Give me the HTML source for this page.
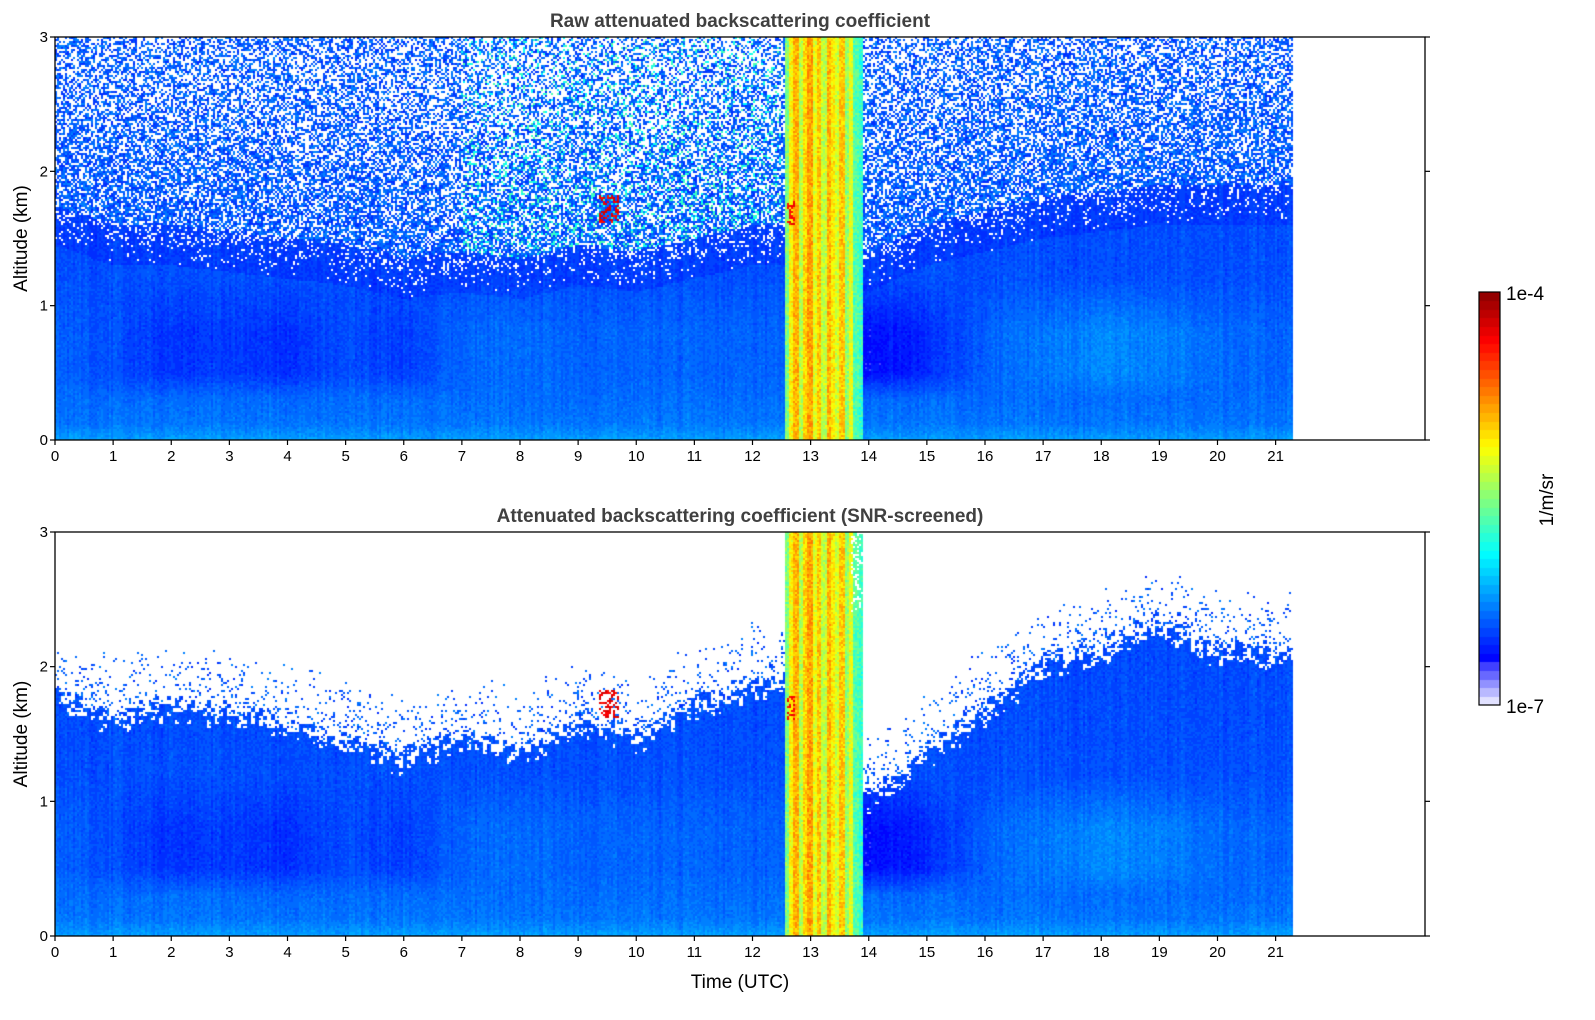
<!DOCTYPE html>
<html><head><meta charset="utf-8"><style>
body{margin:0;background:#fff;width:1595px;height:1020px;overflow:hidden;position:relative;font-family:"Liberation Sans","DejaVu Sans",sans-serif}
canvas{position:absolute}
svg{position:absolute;left:0;top:0}
</style></head><body>
<canvas id="c1" width="1370" height="403" style="left:55px;top:37px"></canvas>
<canvas id="c2" width="1370" height="404" style="left:55px;top:532px"></canvas>
<canvas id="cb" width="21" height="413" style="left:1479px;top:292px"></canvas>
<svg id="ax" width="1595" height="1020"></svg>
<script>
// ---- data ----
const hours=[0,1,2,3,4,5,6,7,8,9,10,11,12,12.5,13,14,15,16,17,18,19,20,21,21.3];
const blTop=[1.75,1.6,1.7,1.65,1.55,1.45,1.3,1.45,1.35,1.6,1.45,1.7,1.85,1.9,1.9,1.0,1.35,1.65,2.0,2.1,2.3,2.1,2.1,2.1];
const rawNoiseTop=[1.75,1.6,1.6,1.55,1.5,1.45,1.35,1.4,1.35,1.45,1.4,1.5,1.6,1.6,1.6,1.4,1.6,1.7,1.8,1.85,1.9,1.9,1.9,1.9];
const lowLayerLevel=[0.21,0.19,0.16,0.17,0.16,0.19,0.17,0.21,0.22,0.21,0.21,0.21,0.21,0.21,0.21,0.12,0.15,0.21,0.23,0.25,0.24,0.22,0.21,0.21];
const cloudSpan=[12.55,13.9];
const cloudStripes=[0.5,0.62,0.7,0.55,0.66,0.72,0.6,0.68,0.56,0.7,0.64,0.58,0.68,0.52,0.6,0.45,0.42];
const patches=[{t0:9.35,t1:9.7,a0:1.62,a1:1.82,v:0.9},{t0:12.6,t1:12.72,a0:1.6,a1:1.78,v:0.88}];
const xMax=23.57, yMax=3, dataEnd=21.3;
const ticksX=[0,1,2,3,4,5,6,7,8,9,10,11,12,13,14,15,16,17,18,19,20,21];
const ticksY=[0,1,2,3];

// ---- helpers ----
function interp(arr,t){for(let i=0;i<hours.length-1;i++){if(t<=hours[i+1]){const f=(t-hours[i])/(hours[i+1]-hours[i]);return arr[i]+(arr[i+1]-arr[i])*f;}}return arr[arr.length-1];}
function hash(a,b,s){let h=(a*374761393+b*668265263+s*982451653)|0;h=(h^(h>>>13))*1274126177|0;h=h^(h>>>16);return ((h>>>0)%10000)/10000;}
function jet(x){const c=v=>Math.max(0,Math.min(1,v));return [c(1.5-Math.abs(4*x-3)),c(1.5-Math.abs(4*x-2)),c(1.5-Math.abs(4*x-1))];}
function cmap(f){f=Math.max(0,Math.min(0.999,f));f=Math.floor(f*48)/48;
 if(f<0.1){const k=f/0.1;return [Math.round(225-(225-32)*k),Math.round(225-(225-32)*k),255];}
 const j=jet(0.125+(f-0.1)/0.9*0.875);return j.map(v=>Math.round(v*255));}
function lin(a,pts){for(let i=0;i<pts.length-1;i++){if(a<=pts[i+1][0]){const f=(a-pts[i][0])/(pts[i+1][0]-pts[i][0]);return pts[i][1]+(pts[i+1][1]-pts[i][1])*f;}}return pts[pts.length-1][1];}

function draw(id,raw){
 const cv=document.getElementById(id),ctx=cv.getContext('2d');
 const W=cv.width,H=cv.height,img=ctx.createImageData(W,H);
 const cw=2,ch=2;
 for(let cx=0;cx<W;cx+=cw){
  const t=(cx+1)/W*xMax; if(t>dataEnd)break;
  const top=interp(blTop,t),nTop=interp(rawNoiseTop,t),low=interp(lowLayerLevel,t);
  const colN=(hash(cx>>1,7,3)-0.5)*0.025;
  for(let cy=0;cy<H;cy+=ch){
   const a=(H-cy-1)/H*yMax; const n=hash(cx,cy,raw?1:2);
   let v=null;
   const inCloud=t>=cloudSpan[0]&&t<=cloudSpan[1];
   if(inCloud){const si=Math.floor((t-cloudSpan[0])/(cloudSpan[1]-cloudSpan[0])*cloudStripes.length);v=cloudStripes[Math.min(si,cloudStripes.length-1)]+(n-0.5)*0.1;
    if(!raw&&t>13.7&&a>2.4&&n<0.3)v=null;}
   else{
    let base=lin(a,[[0,0.27],[0.06,0.25],[0.12,0.23],[0.3,0.22],[0.5,low],[0.8,low],[1.2,0.19],[3,0.18]]);
    base+=colN+(n-0.5)*0.03;
    if(raw){
     if(a<nTop-0.3)v=base;
     else if(a<nTop){v=base-0.02; if(n<(a-nTop+0.3)*0.8)v=null;}
     else{const p=Math.min(0.55,0.3+(a-nTop)*0.2);
      if(n<p)v=null;else{v=0.15+hash(cy,cx,9)*0.1;if(t>7&&t<12.5&&hash(cx,cy,5)<0.2)v=0.36+hash(cx,cy,6)*0.1;}}
    }else{
     const edge=top+(hash(cx>>2,cy>>2,4)-0.5)*0.25;
     if(a<edge)v=base;
     else if(a<top+0.5&&hash(cx>>1,cy>>1,8)<0.18*(1-(a-top)/0.5))v=0.16+n*0.08;
     else v=null;
    }
   }
   for(const p of patches){if(t>=p.t0&&t<=p.t1&&a>=p.a0&&a<=p.a1&&n<0.45)v=p.v+(n-0.2)*0.15;}
   if(v===null)continue;
   const c=cmap(v);
   for(let dx=0;dx<cw&&cx+dx<W;dx++)for(let dy=0;dy<ch&&cy+dy<H;dy++){const k=((cy+dy)*W+cx+dx)*4;img.data[k]=c[0];img.data[k+1]=c[1];img.data[k+2]=c[2];img.data[k+3]=255;}
  }
 }
 ctx.putImageData(img,0,0);
}
draw('c1',true);draw('c2',false);
(function(){const cv=document.getElementById('cb'),ctx=cv.getContext('2d');for(let y=0;y<413;y++){const c=cmap(1-y/413);ctx.fillStyle='rgb('+c.join(',')+')';ctx.fillRect(0,y,21,1);}})();

// ---- axes ----
const NS='http://www.w3.org/2000/svg',svg=document.getElementById('ax');
function el(tag,attrs,txt){const e=document.createElementNS(NS,tag);for(const k in attrs)e.setAttribute(k,attrs[k]);if(txt!==undefined)e.textContent=txt;svg.appendChild(e);return e;}
const L=55,R=1425;
const xs=t=>L+t/xMax*(R-L);
const panels=[{top:37,bot:440,title:'Raw attenuated backscattering coefficient',n:'raw'},{top:532,bot:936,title:'Attenuated backscattering coefficient (SNR-screened)',n:'snr'}];
panels.forEach(p=>{
 const ys=a=>p.bot-a/yMax*(p.bot-p.top);
 const fr=el('rect',{x:L,y:p.top,width:R-L,height:p.bot-p.top,fill:'none',stroke:'#000','stroke-width':1.3});
 
 const ti=el('text',{x:(L+R)/2,y:p.top-10,'text-anchor':'middle','font-size':'19','font-weight':'bold',fill:'#404040'},p.title);
 
 ticksX.forEach(t=>{const x=xs(t);el('line',{x1:x,x2:x,y1:p.bot,y2:p.bot+5,stroke:'#000','stroke-width':1.2});
  const lb=el('text',{x:x,y:p.bot+21,'text-anchor':'middle','font-size':'15',fill:'#000'},String(t));
  });
 ticksY.forEach(a=>{const y=ys(a);el('line',{x1:L-5,x2:L,y1:y,y2:y,stroke:'#000','stroke-width':1.2});el('line',{x1:R,x2:R+5,y1:y,y2:y,stroke:'#000','stroke-width':1.2});
  const lb=el('text',{x:L-7,y:y+5,'text-anchor':'end','font-size':'15',fill:'#000'},String(a));
  });
 const yl=el('text',{x:27,y:(p.top+p.bot)/2,'text-anchor':'middle','font-size':'19',fill:'#000',transform:'rotate(-90 27 '+(p.top+p.bot)/2+')'},'Altitude (km)');
 
});
const xt=el('text',{x:740,y:988,'text-anchor':'middle','font-size':'19',fill:'#000'},'Time (UTC)');

const cbf=el('rect',{x:1479,y:292,width:21,height:413,fill:'none',stroke:'#000','stroke-width':1.2});

const c1=el('text',{x:1506,y:300,'font-size':'19',fill:'#000'},'1e-4');

const c2=el('text',{x:1506,y:713,'font-size':'19',fill:'#000'},'1e-7');

const cu=el('text',{x:1553,y:500,'text-anchor':'middle','font-size':'19',fill:'#000',transform:'rotate(-90 1553 500)'},'1/m/sr');

</script>
</body></html>
